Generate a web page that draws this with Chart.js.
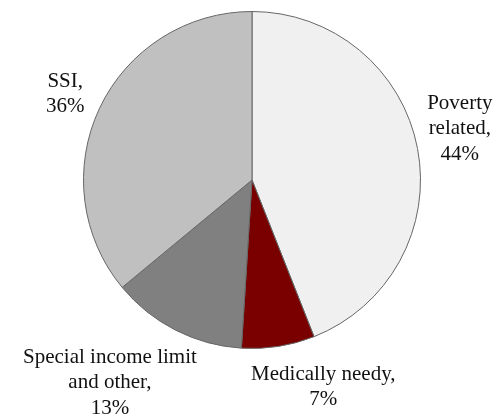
<!DOCTYPE html>
<html>
<head>
<meta charset="utf-8">
<script src="https://cdn.jsdelivr.net/npm/chart.js@4"></script>
<style>
html,body{margin:0;padding:0;background:#fff;}
#wrap{width:504px;height:419px;}
</style>
</head>
<body>
<div id="wrap"><canvas id="c" width="504" height="419"></canvas></div>
<script>
const categories = ["Poverty related", "Medically needy", "Special income limit and other", "SSI"];
const labelLines = [["Poverty", "related,"], ["Medically needy,"], ["Special income limit", "and other,"], ["SSI,"]];
const shares = [44, 7, 13, 36];
const colors = ["#f0f0f0", "#7a0000", "#808080", "#c0c0c0"];

// label placement: [angle shift (deg), distance as multiple of radius]
const labelPlace = [[-3, 1.27], [-10, 1.30], [8, 1.47], [-0.5, 1.22]];

const labelPlugin = {
  id: 'sliceLabels',
  afterDatasetsDraw(chart) {
    const ctx = chart.ctx;
    const meta = chart.getDatasetMeta(0);
    ctx.save();
    ctx.font = '21px "Liberation Serif", serif';
    ctx.fillStyle = '#111';
    ctx.textAlign = 'center';
    ctx.textBaseline = 'middle';
    const lh = 25.5;
    meta.data.forEach((arc, i) => {
      const p = arc.getProps(['x', 'y', 'startAngle', 'endAngle', 'outerRadius'], true);
      const mid = (p.startAngle + p.endAngle) / 2 + labelPlace[i][0] * Math.PI / 180;
      const d = p.outerRadius * labelPlace[i][1];
      const cx = p.x + Math.cos(mid) * d;
      const cy = p.y + Math.sin(mid) * d;
      const lines = labelLines[i].concat([shares[i] + '%']);
      const y0 = cy - (lines.length - 1) * lh / 2;
      lines.forEach((t, k) => ctx.fillText(t, cx, y0 + k * lh));
    });
    ctx.restore();
  }
};

new Chart(document.getElementById('c'), {
  type: 'pie',
  data: {
    labels: categories,
    datasets: [{
      data: shares,
      backgroundColor: colors,
      borderColor: '#666666',
      borderWidth: 1
    }]
  },
  options: {
    responsive: false,
    animation: false,
    layout: { padding: { top: 11, bottom: 70, left: 0, right: 0 } },
    plugins: { legend: { display: false }, tooltip: { enabled: false } }
  },
  plugins: [labelPlugin]
});
</script>
</body>
</html>
